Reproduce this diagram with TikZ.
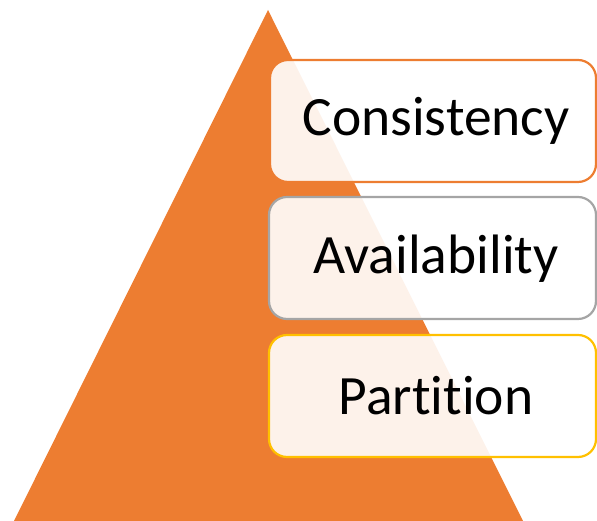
\documentclass[tikz,border=0pt]{standalone}
\usepackage{fontspec}
\setmainfont[Ligatures=NoCommon]{Carlito}
\definecolor{tri}{HTML}{ED7D31}
\definecolor{bgray}{HTML}{A5A5A5}
\definecolor{bgold}{HTML}{FFC000}
\begin{document}
\begin{tikzpicture}[x=1pt,y=1pt,
  capbox/.style={rounded corners=18pt, fill=white, fill opacity=0.9, line width=2.2pt},
  captext/.style={inner sep=0pt, font=\fontsize{55.5}{60}\selectfont}]
\useasboundingbox (0,0) rectangle (597,521);
\fill[tri] (268,511) -- (14,0) -- (523,0) -- cycle;
\draw[capbox, draw=tri] (270,461) rectangle (596,339);
\node[captext] (c) at (436,400) {Consistency};
\draw[capbox, draw=bgray] (269,324) rectangle (596,202);
\node[captext] (a) at (436,262) {Availability};
\draw[capbox, draw=bgold] (269,186) rectangle (596,64);
\node[captext] (p) at (436,125) {Partition};
\end{tikzpicture}
\end{document}
